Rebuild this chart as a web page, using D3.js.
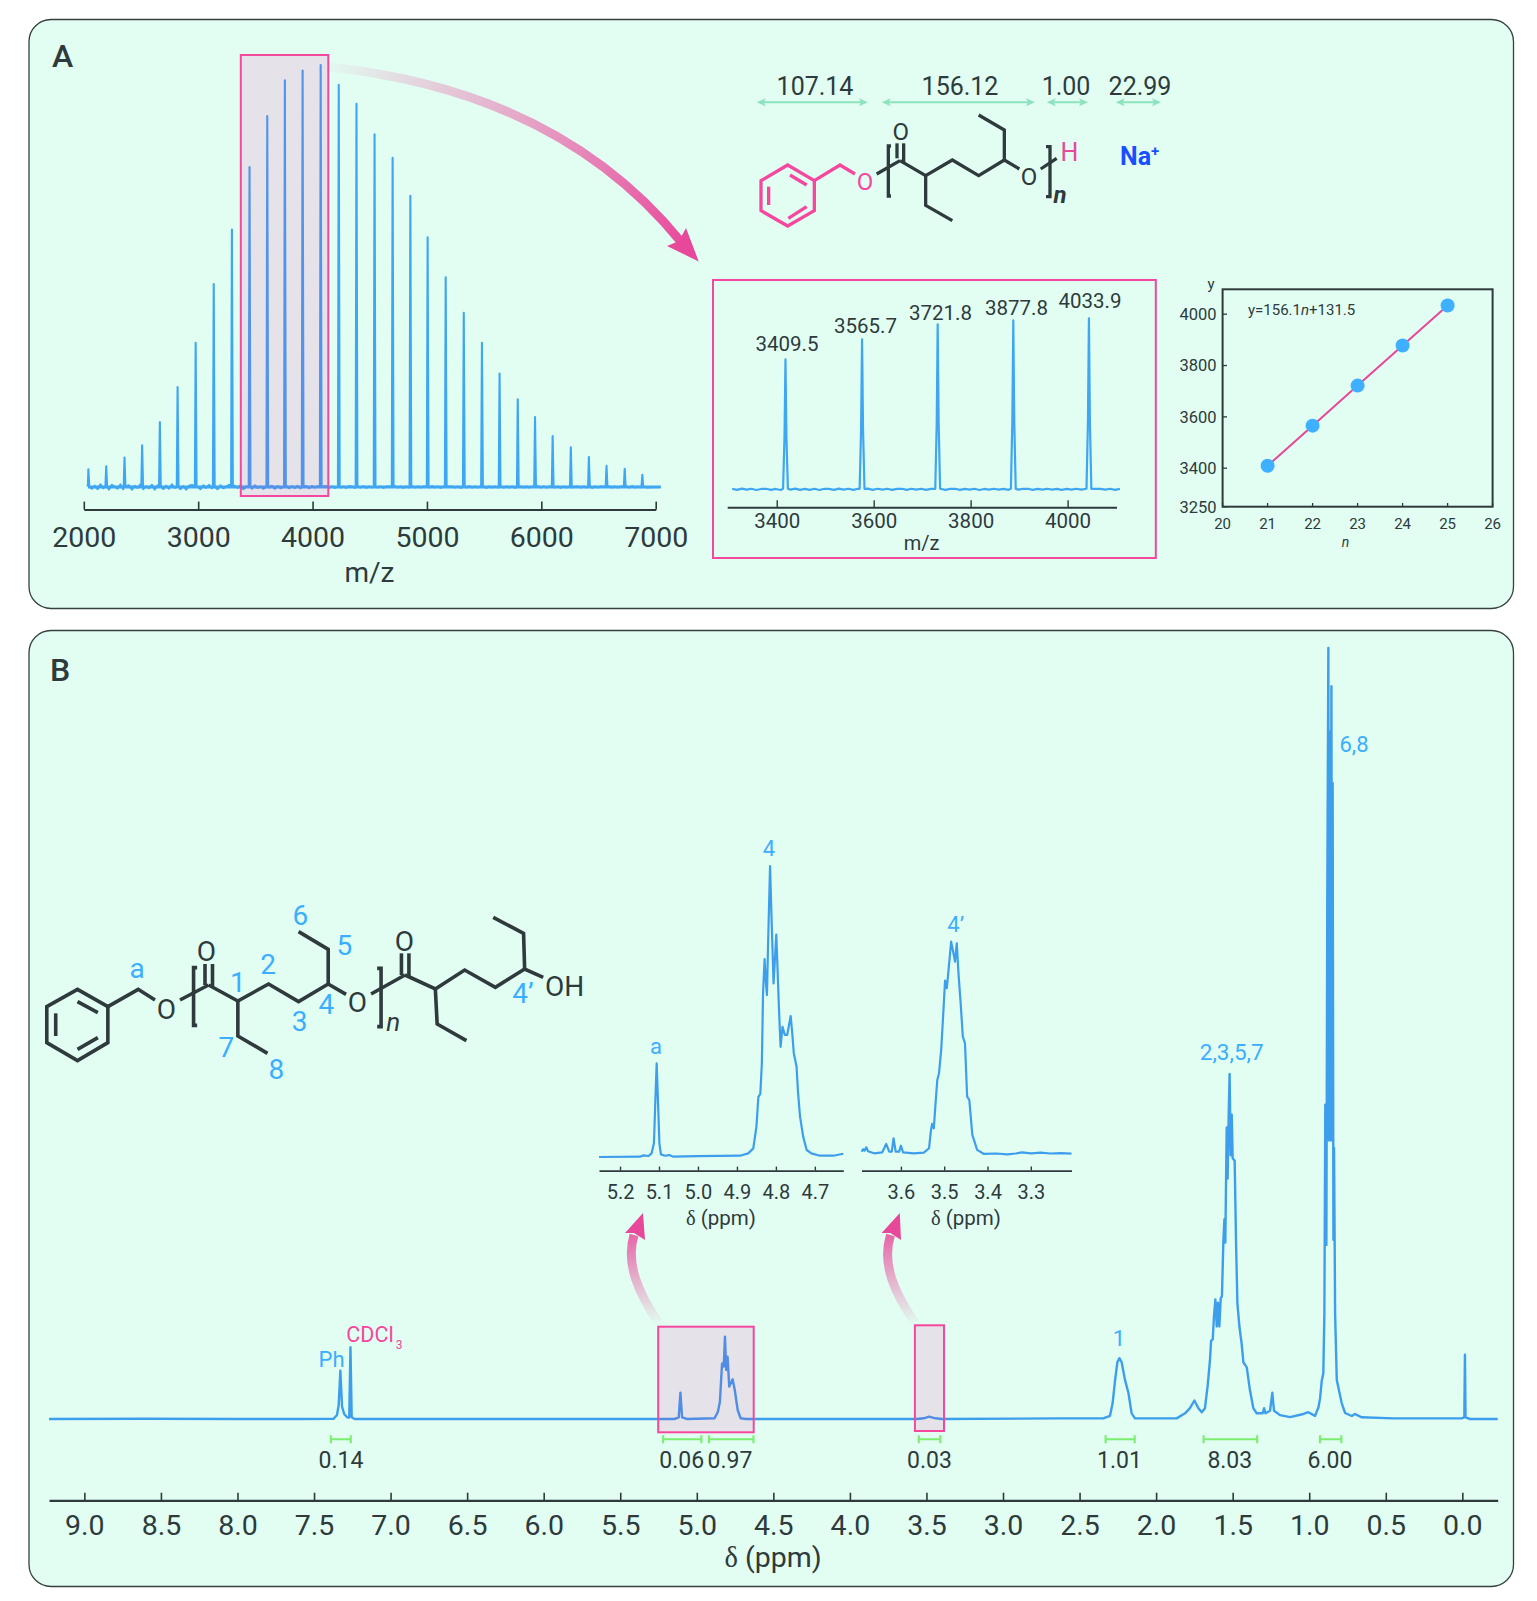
<!DOCTYPE html>
<html><head><meta charset="utf-8">
<script src="https://cdn.jsdelivr.net/npm/d3@7"></script>
<style>html,body{margin:0;padding:0;background:#fff}svg{display:block}text{font-family:Roboto,sans-serif}</style>
</head><body><svg id="c" width="1537" height="1601" xmlns="http://www.w3.org/2000/svg"></svg>
<script>
// ---------- Panel A data ----------
const msPeakMz=[2040,2196,2356,2510,2665,2820,2978,3136,3295,3449,3604,3758,3913,4071,4229,4384,4542,4700,4855,5006,5164,5322,5481,5635,5794,5945,6099,6258,6416,6570,6729,6883];
const msPeakInt=[4.2,4.9,7.0,9.9,15.4,23.7,34.2,48.1,61,75.8,87.9,96.4,98.7,100,95.3,90.8,83.6,78,69,59.2,49.7,41.3,34.2,26.9,20.8,16.6,12.1,9.4,7.1,5,4.3,2.9];
const msNoise=[.5,-.4,.3,-.5,.6,-.3,.2,-.6,.5,.1,-.4,.6,-.5,.2,.4,-.6,.3,-.2,.6,-.5,.2,-.3,.5,-.6,.4,.1,-.5,.3,-.4,.6,-.2,.4,-.5,.2,-.6,.3,.5,-.4,.1,-.5,.4,-.2,.5,-.3,.2,-.5,.4,-.3,.1,.5,-.4,.3,-.2,.4,-.5,.1,.3,-.4,.4,-.2,.1,-.4,.3,-.1,.3,-.4,.2,-.3,.1,.3,-.3,.2,-.2,.3,-.3,.1,.2,-.3,.2,-.1,.2,-.2,.1,.2,-.2,.1,-.2,.2,-.1,.1,-.2,.2,.1,-.2,.1,-.1,.2,-.2,.1,-.1,.2,-.1,.1,-.2,.1,.1,-.1,.2,-.1,.1,-.2,.1,-.1,.2,-.1,.1,-.1,.1,.1,-.1,.2,-.1,.1,-.2,.1,-.1,.1,.1,-.1,.1,-.2,.1,-.1,.2,-.1,.1,-.1,.1,.1,-.2,.1,-.1,.1,-.1,.2,-.1,.1,-.1,.1,-.2,.1,.1,-.1,.1,-.1,.1,-.1,.2,-.1,.1,-.1,.1,.1,-.1,.1,-.2,.1,-.1,.1,-.1,.1,.1,-.1,.1,-.1,.1,-.2,.1,-.1,.1,.1,-.1,.1,-.1,.1,-.1,.1,-.1,.1,-.1,.2,-.1,.1,-.1,.1,-.1];
const msTicks=[2000,3000,4000,5000,6000,7000];
const zoomPeakMz=[3418,3576,3732,3888,4044];
const zoomPeakInt=[76,87.7,96.5,98.8,100];
const zoomPeakLabels=["3409.5","3565.7","3721.8","3877.8","4033.9"];
const zoomNoise=[.3,-.3,.4,-.2,.3,-.4,.2,.3,-.3,.2,-.4,.3,-.2,.4,-.3,.2,-.3,.3,-.4,.3,.2,-.3,.4,-.2,.3,-.3,.3,-.2,.4,-.3,.3,-.2,.3,-.3,.2,.3,-.3,.3,-.2,.3,-.3,.2,-.2,.3,-.3,.2,.3,-.3,.2,-.2,.3,-.4,.2,-.2,.3,-.2,.2,-.3,.3,-.2,.2,.3,-.3,.2,-.2,.3,-.2,.2,-.3,.2,-.2,.3,-.2,.2,-.3,.2,.2,-.2,.3,-.3,.2];
const zoomTicks=[3400,3600,3800,4000];
const fitN=[21,22,23,24,25];
const fitM=[3409.5,3565.7,3721.8,3877.8,4033.9];
const fitNTicks=[20,21,22,23,24,25,26];
const fitMTicks=[3250,3400,3600,3800,4000];
const fragLabels=["107.14","156.12","1.00","22.99"];
// ---------- Panel B data: [ppm, relative height] ----------
const nmrLeft=[[9.231,0],[8.6,0.03],[8.0,0],[7.592,0]];
const nmrAromatic=[[7.372,.04],[7.350,.52],[7.339,1.82],[7.328,6.27],[7.317,1.6],[7.303,.65],[7.284,.22],[7.270,.18],[7.262,9.3],[7.254,.22],[7.235,0]];
const nmrOverlap=[[5.146,0],[5.118,.2],[5.107,3.42],[5.096,.2],[5.063,0],[4.884,.1],[4.862,.95],[4.849,2.25],[4.835,7.2],[4.824,6.8],[4.816,10.68],[4.808,6.36],[4.799,8.08],[4.788,4.2],[4.766,5.15],[4.752,3.76],[4.733,1.17],[4.714,.1],[4.678,0]];
const nmrEnd=[[3.565,0],[3.518,.09],[3.483,.3],[3.441,.09],[3.4,0]];
const nmrAliphatic=[[2.628,.08],[2.345,.08],[2.301,.41],[2.284,2.07],[2.268,5.04],[2.253,7.36],[2.240,7.89],[2.225,7.36],[2.203,5.04],[2.181,3.4],[2.160,.74],[2.138,.08],[1.866,.08],[1.811,.74],[1.779,1.4],[1.750,2.4],[1.724,1.4],[1.702,.87],[1.681,1.4],[1.663,4.38],[1.648,7.69],[1.641,10.14],[1.630,10.34],[1.622,13.32],[1.613,15.5],[1.604,12],[1.596,15.1],[1.587,12],[1.578,15.63],[1.570,15.97],[1.561,22.9],[1.554,25.9],[1.548,22.9],[1.539,37.8],[1.533,31.2],[1.526,39.46],[1.520,44.75],[1.513,34.2],[1.506,39.46],[1.500,33.83],[1.487,33.5],[1.478,22.9],[1.469,14.97],[1.456,12],[1.441,9.67],[1.430,7.36],[1.408,6.7],[1.387,3.72],[1.365,1.4],[1.343,.74],[1.304,.74],[1.295,1.4],[1.286,.74],[1.256,1.07],[1.241,3.4],[1.230,1.07],[1.191,.5],[1.125,.24],[1.038,.65],[1.006,.88],[.962,.4],[.940,1.5],[.929,2.7],[.918,5],[.908,5.9],[.901,13.7],[.895,40.78],[.888,22.58],[.882,67.9],[.875,100],[.871,36.15],[.864,89.1],[.860,36.15],[.855,95.05],[.851,36.15],[.847,82.5],[.842,23.25],[.838,35.15],[.834,23.25],[.831,13.7],[.820,5.06],[.788,2.07],[.766,.78],[.722,.39],[.701,.65],[.657,.22],[.450,.08],[.1,.08],[.004,.08],[-.013,.2],[-.017,8.35],[-.021,.2],[-.05,0],[-.231,0]];
const nmrTicks=[9,8.5,8,7.5,7,6.5,6,5.5,5,4.5,4,3.5,3,2.5,2,1.5,1,.5,0];
const insetA=[[5.254,-.1],[5.149,0],[5.140,.46],[5.127,.23],[5.119,1.15],[5.113,4.6],[5.109,20.6],[5.106,32.1],[5.103,20.6],[5.099,4.6],[5.095,.8],[5.085,.34],[5.074,.57],[5.063,0],[5.003,.23],[4.892,.34],[4.871,1.15],[4.858,2.87],[4.850,10.3],[4.845,20.6],[4.840,21.6],[4.836,32.1],[4.833,56.2],[4.829,68],[4.826,60.8],[4.823,55.6],[4.820,73.4],[4.815,100],[4.811,81.4],[4.806,59.6],[4.799,76.4],[4.796,65.4],[4.792,50.5],[4.788,37.8],[4.783,44.7],[4.777,41.9],[4.771,41.9],[4.762,48.4],[4.758,42.4],[4.754,35.6],[4.747,31],[4.743,21.8],[4.738,13.8],[4.730,6.9],[4.721,2.3],[4.709,1.15],[4.687,.34],[4.653,.34],[4.627,1.03]];
const insetATicks=[5.2,5.1,5.0,4.9,4.8,4.7];
const insetB=[[3.691,.8],[3.687,1.9],[3.684,1.26],[3.680,2.83],[3.676,.94],[3.662,0],[3.643,.47],[3.634,4.4],[3.627,.8],[3.621,.8],[3.617,7.1],[3.612,.8],[3.604,.8],[3.600,3.6],[3.595,.47],[3.570,0],[3.547,.3],[3.535,2.4],[3.531,10.2],[3.528,13.9],[3.524,11.8],[3.520,23.6],[3.516,34.6],[3.512,37.8],[3.507,48.8],[3.503,63],[3.498,81.6],[3.494,78],[3.490,86.6],[3.484,100],[3.480,96],[3.475,90.6],[3.471,99.2],[3.467,85],[3.462,70.9],[3.457,55.1],[3.452,52],[3.447,26.8],[3.442,25.2],[3.435,8.7],[3.430,5.5],[3.424,1.6],[3.408,-.3],[3.380,-.1],[3.354,-.47],[3.335,-.1],[3.320,.47],[3.300,0],[3.277,.3],[3.255,-.1],[3.231,.1],[3.206,-.16]];
const insetBTicks=[3.6,3.5,3.4,3.3];
const integrals=[[7.39,7.26,"0.14"],[5.22,4.97,"0.06"],[4.92,4.63,"0.97"],[3.55,3.41,"0.03"],[2.33,2.14,"1.01"],[1.69,1.34,"8.03"],[.93,.79,"6.00"]];
const integralLabelX=[341,681.7,730,929.5,1119.5,1229.8,1330];

// ---------- style ----------
const DARK="#2e3a3c",BLUE="#3d9eec",LABEL="#3baeff",PINK="#f4479d",ARROW="#e8489a",GREEN="#8de3bf",INT="#7bee70",SPEC="#3fa6f2";
const svg=d3.select("#c");
const defs=svg.append("defs");
function txt(g,x,y,s,o={}){return g.append("text").attr("x",x).attr("y",y).attr("text-anchor",o.anchor||"middle")
 .attr("font-size",o.size||20).attr("fill",o.fill||DARK).attr("font-weight",o.weight||400).attr("font-style",o.style||"normal").text(s);}
function deltaLabel(x,y,size){const t=txt(svg,x,y,"",{size});
 t.append("tspan").attr("font-family","'Liberation Serif',serif").text("δ");t.append("tspan").text(" (ppm)");}
function panel(x,y,w,h){svg.append("rect").attr("x",x).attr("y",y).attr("width",w).attr("height",h).attr("rx",22)
 .attr("fill","#e2fef2").attr("stroke","#34413f").attr("stroke-width",1.3);}
panel(29,19.5,1484.5,589);
panel(29,630.5,1484.5,956);
txt(svg,52,66.5,"A",{anchor:"start",size:32,weight:500});
txt(svg,50,681,"B",{anchor:"start",size:32,weight:500});

function bottomAxis(scale,ticks,y,opt){
 const ax=d3.axisBottom(scale).tickValues(ticks).tickSizeInner(-opt.len).tickSizeOuter(0).tickFormat(opt.fmt||(d=>d));
 const g=svg.append("g").attr("transform",`translate(0,${y})`).call(ax);
 g.select(".domain").attr("stroke",DARK).attr("stroke-width",opt.sw||2);
 g.selectAll(".tick line").attr("stroke",DARK).attr("stroke-width",opt.tw||1.6);
 g.selectAll(".tick text").attr("y",opt.base).attr("dy",0).attr("fill",DARK).attr("font-family","Roboto,sans-serif").attr("font-size",opt.size);
 return g;
}
function gradArrow(id,d,x1,y1,x2,y2,head,w){
 const lg=defs.append("linearGradient").attr("id",id).attr("gradientUnits","userSpaceOnUse").attr("x1",x1).attr("y1",y1).attr("x2",x2).attr("y2",y2);
 lg.append("stop").attr("offset",0).attr("stop-color",ARROW).attr("stop-opacity",.03);
 lg.append("stop").attr("offset",.45).attr("stop-color",ARROW).attr("stop-opacity",.45);
 lg.append("stop").attr("offset",1).attr("stop-color",ARROW).attr("stop-opacity",1);
 svg.append("path").attr("d",d).attr("fill","none").attr("stroke",`url(#${id})`).attr("stroke-width",w);
 svg.append("polygon").attr("points",head.map(p=>p.join(",")).join(" ")).attr("fill",ARROW);
}
function pinkRect(x,y,x2,y2){svg.append("rect").attr("x",x).attr("y",y).attr("width",x2-x).attr("height",y2-y)
 .attr("fill","#ff00a0").attr("fill-opacity",.105).attr("stroke",PINK).attr("stroke-width",2);}
function pinkFrame(x,y,x2,y2){svg.append("rect").attr("x",x).attr("y",y).attr("width",x2-x).attr("height",y2-y)
 .attr("fill","none").attr("stroke",PINK).attr("stroke-width",2);}

// ---------- Panel A: full mass spectrum ----------
const msX=d3.scaleLinear().domain([2000,7000]).range([83.8,655.7]);
const msY=d3.scaleLinear().domain([0,100]).range([487,65]);
const msBase=msNoise.map((v,i)=>[2045+i*25,v]);
const msPts=msBase.filter(p=>!msPeakMz.some(m=>Math.abs(m-p[0])<10));
msPeakMz.forEach((m,i)=>{msPts.push([m-7,0.1],[m,msPeakInt[i]],[m+3,msPeakInt[i]*.6],[m+8,0.1]);});
msPts.push([2036,0.6],[7044,0]);
msPts.sort((a,b)=>a[0]-b[0]);
const msLine=d3.line().x(d=>msX(d[0])).y(d=>msY(d[1]));
svg.append("path").attr("d",msLine(msPts)).attr("fill","none").attr("stroke",SPEC).attr("stroke-width",2.1).attr("stroke-linejoin","round");
svg.append("path").attr("d",msLine([[2036,0],[7044,0]])).attr("stroke",SPEC).attr("stroke-width",3);
bottomAxis(msX,msTicks,509.6,{len:8,base:37.5,size:28.5,sw:2});
txt(svg,369.5,582,"m/z",{size:28});
pinkRect(240.8,55,328.3,496);
gradArrow("ga","M330,67 Q560,92 682,243",330,67,690,250,[[698.7,261.4],[667,246],[679,241],[686,228]],9);

// ---------- Panel A: fragments and molecule ----------
const fragX=[815,960,1066,1140];
const fragSpan=[[756.7,868],[881.7,1035],[1046.7,1088],[1115.7,1161]];
fragLabels.forEach((l,i)=>{
 txt(svg,fragX[i],94.5,l,{size:25});
 const [a,b]=fragSpan[i],y=102.3;
 svg.append("line").attr("x1",a+3).attr("x2",b-3).attr("y1",y).attr("y2",y).attr("stroke",GREEN).attr("stroke-width",2);
 svg.append("polygon").attr("points",`${a},${y} ${a+9},${y-4} ${a+7},${y} ${a+9},${y+4}`).attr("fill",GREEN);
 svg.append("polygon").attr("points",`${b},${y} ${b-9},${y-4} ${b-7},${y} ${b-9},${y+4}`).attr("fill",GREEN);
});
function bonds(map,list,color,w){const l=d3.line().x(d=>map(d)[0]).y(d=>map(d)[1]);
 list.forEach(s=>svg.append("path").attr("d",l(s)).attr("fill","none").attr("stroke",color).attr("stroke-width",w).attr("stroke-linejoin","miter").attr("stroke-linecap","butt"));}
const mA=p=>[p[0]/3+690,p[1]/3+50];
bonds(mA,[[[293,345],[373,392],[373,482],[293,528],[213,482],[213,392],[293,345],[373,392]],[[300,375],[350,405]],[[236,410],[236,465]],[[295,505],[350,470]],[[373,392],[450,345],[495,372]]],PINK,3.3);
bonds(mA,[[[560,372],[630,332]],[[621,280],[621,325]],[[641,280],[641,342]],[[630,332],[707,377],[787,330],[866,377],[943,330],[988,357]],[[707,377],[707,466],[787,512]],[[943,330],[943,240],[866,195]],[[1052,357],[1100,325]],[[603,288],[595,288],[595,438],[603,438]],[[1068,290],[1080,290],[1080,440],[1068,440]]],DARK,3.3);
function molText(map,p,s,o){const q=map(p);txt(svg,q[0],q[1]+.355*o.size,s,o);}
molText(mA,[525,395],"O",{size:24,fill:PINK});
molText(mA,[632,245],"O",{size:24});
molText(mA,[1017,378],"O",{size:24});
molText(mA,[1138,306],"H",{size:25,fill:"#e8489a"});
molText(mA,[1110,432],"n",{size:24,weight:700,style:"italic"});
const na=txt(svg,1120,165.3,"Na",{anchor:"start",size:25,weight:700,fill:"#1a4fff"});
na.append("tspan").attr("font-size",15).attr("dy",-9).text("+");

// ---------- Panel A: zoom spectrum ----------
const zX=d3.scaleLinear().domain([3297.8,4100.9]).range([727.2,1116.5]);
const zY=d3.scaleLinear().domain([0,100]).range([489.3,318.3]);
const zPts=zoomNoise.map((v,i)=>[3308+i*10,v]).filter(p=>!zoomPeakMz.some(m=>Math.abs(m-p[0])<7));
zoomPeakMz.forEach((m,i)=>{zPts.push([m-5,.3],[m-2,zoomPeakInt[i]*.4],[m,zoomPeakInt[i]],[m+2,zoomPeakInt[i]*.4],[m+5,.3]);});
zPts.sort((a,b)=>a[0]-b[0]);
const zLine=d3.line().x(d=>zX(d[0])).y(d=>zY(d[1]));
svg.append("path").attr("d",zLine(zPts)).attr("fill","none").attr("stroke",SPEC).attr("stroke-width",2.2).attr("stroke-linejoin","round");
bottomAxis(zX,zoomTicks,507.3,{len:7,base:20.5,size:20.5,sw:2,tw:1.4});
txt(svg,921.5,550,"m/z",{size:20});
const zLabelX=[787,865.5,940.5,1016.5,1090],zLabelY=[350.7,332.7,320,314.7,308.3];
zoomPeakLabels.forEach((l,i)=>txt(svg,zLabelX[i],zLabelY[i],l,{size:20.5}));
pinkFrame(713,280,1155.8,558);

// ---------- Panel A: linear fit ----------
const fX=d3.scaleLinear().domain([20,26]).range([1222.6,1492.6]);
const fY=d3.scaleLinear().domain([3250,4097]).range([506.7,289.3]);
svg.append("rect").attr("x",1222.6).attr("y",289.3).attr("width",270).attr("height",217.4).attr("fill","none").attr("stroke",DARK).attr("stroke-width",2);
fitNTicks.forEach(t=>{
 svg.append("line").attr("x1",fX(t)).attr("x2",fX(t)).attr("y1",506.7).attr("y2",503).attr("stroke",DARK).attr("stroke-width",1.3);
 txt(svg,fX(t),529,t,{size:15});});
fitMTicks.forEach(t=>{
 svg.append("line").attr("x1",1222.6).attr("x2",1227).attr("y1",fY(t)).attr("y2",fY(t)).attr("stroke",DARK).attr("stroke-width",1.3);
 txt(svg,1216.5,fY(t)+5.8,t,{size:16.5,anchor:"end"});});
txt(svg,1211,289,"y",{size:15});
txt(svg,1345.6,546.7,"n",{size:14,style:"italic"});
const eq=txt(svg,1248,315,"y=156.1",{anchor:"start",size:15});
eq.append("tspan").attr("font-style","italic").text("n");eq.append("tspan").text("+131.5");
const fitData=fitN.map((n,i)=>[n,fitM[i]]);
svg.append("path").attr("d",d3.line().x(d=>fX(d[0])).y(d=>fY(d[1]))(fitData)).attr("fill","none").attr("stroke",ARROW).attr("stroke-width",2);
svg.selectAll("circle.fit").data(fitData).join("circle").attr("cx",d=>fX(d[0])).attr("cy",d=>fY(d[1])).attr("r",7).attr("fill","#3fb0ff");

// ---------- Panel B: main spectrum ----------
const nX=d3.scaleLinear().domain([9.231,-.231]).range([49,1497.7]);
const nY=d3.scaleLinear().domain([0,100]).range([1419,648]);
const nLine=d3.line().x(d=>nX(d[0])).y(d=>nY(d[1]));
const nAll=[...nmrLeft,...nmrAromatic,...nmrOverlap,...nmrEnd,...nmrAliphatic];
svg.append("path").attr("d",nLine(nAll)).attr("fill","none").attr("stroke",BLUE).attr("stroke-width",2.4).attr("stroke-linejoin","round");
bottomAxis(nX,nmrTicks,1500.3,{len:7.6,base:34.7,size:28.5,fmt:d3.format(".1f"),sw:2.2});
deltaLabel(773,1567,28.5);
integrals.forEach((d,i)=>{
 const a=nX(d[0]),b=nX(d[1]),y=1439.3;
 svg.append("path").attr("d",`M${a},${y-4}V${y+4}M${a},${y}H${b}M${b},${y-4}V${y+4}`).attr("fill","none").attr("stroke",INT).attr("stroke-width",2.1);
 txt(svg,integralLabelX[i],1468.3,d[2],{size:23});
});
pinkRect(658.2,1326.7,753.7,1432.3);
pinkRect(914.9,1325.3,944,1431);
txt(svg,331.6,1367,"Ph",{size:22,fill:LABEL});
const cd=txt(svg,346.3,1341.7,"CDCl",{anchor:"start",size:21.5,fill:PINK});
cd.append("tspan").attr("font-size",12).attr("dx",2).attr("dy",7).text("3");
txt(svg,1119,1346,"1",{size:22,fill:LABEL});
txt(svg,1231.7,1060,"2,3,5,7",{size:22.5,fill:LABEL});
txt(svg,1354,752,"6,8",{size:22,fill:LABEL});
gradArrow("gb1","M658,1322 C640,1295 625,1265 634,1235",658,1322,640,1215,[[643,1213],[625,1233],[634,1233],[645,1240]],9);
gradArrow("gb2","M914.5,1322 C896,1295 881,1265 890.5,1235",914.5,1322,896,1215,[[899.8,1213],[881.6,1233],[890.5,1233],[901,1240]],9);

// ---------- Panel B: insets ----------
const iAX=d3.scaleLinear().domain([5.254,4.627]).range([599,843.3]);
const iAY=d3.scaleLinear().domain([0,100]).range([1156.7,866]);
svg.append("path").attr("d",d3.line().x(d=>iAX(d[0])).y(d=>iAY(d[1]))(insetA)).attr("fill","none").attr("stroke",BLUE).attr("stroke-width",2.2).attr("stroke-linejoin","round");
bottomAxis(iAX,insetATicks,1170.6,{len:4,base:28.4,size:20,fmt:d3.format(".1f"),sw:1.8,tw:1.4});
deltaLabel(720.9,1225,20.5);
txt(svg,769,855.5,"4",{size:22,fill:LABEL});
txt(svg,656,1054,"a",{size:22,fill:LABEL});
const iBX=d3.scaleLinear().domain([3.691,3.206]).range([861.5,1071.5]);
const iBY=d3.scaleLinear().domain([0,100]).range([1153.3,941.7]);
svg.append("path").attr("d",d3.line().x(d=>iBX(d[0])).y(d=>iBY(d[1]))(insetB)).attr("fill","none").attr("stroke",BLUE).attr("stroke-width",2.2).attr("stroke-linejoin","round");
bottomAxis(iBX,insetBTicks,1170.6,{len:4,base:28.4,size:20,fmt:d3.format(".1f"),sw:1.8,tw:1.4});
deltaLabel(966,1225,20.5);
txt(svg,955.7,931.7,"4’",{size:22,fill:LABEL});

// ---------- Panel B: molecule ----------
const mB=p=>[p[0]/2.8+30,p[1]/3+870];
bonds(mB,[[[133,358],[218,410],[218,518],[133,572],[47,518],[47,410],[133,358],[218,410]],[[133,395],[190,428]],[[72,430],[72,498]],[[133,538],[190,503]],[[218,410],[303,358],[350,390]],
 [[420,390],[500,345]],[[490,345],[490,282]],[[511,350],[511,282]],[[500,345],[582,393],[668,342],[752,395],[835,342],[885,373]],[[582,393],[582,498],[665,550]],[[835,342],[835,238],[752,185]],
 [[468,293],[458,293],[458,466],[468,466]],[[972,295],[983,295],[983,470],[972,470]],[[955,372],[1050,315]],[[1040,315],[1040,250]],[[1061,320],[1061,250]],
 [[1050,315],[1135,357],[1217,300],[1303,352],[1385,297],[1437,322]],[[1135,357],[1140,462],[1222,512]],[[1385,297],[1382,190],[1297,142]]],DARK,3.6);
[[382,418,"O"],[494,243,"O"],[917,397,"O"],[1048,212,"O"]].forEach(d=>molText(mB,d,d[2],{size:28}));
molText(mB,[1497,347],"OH",{size:28});
molText(mB,[1017,455],"n",{size:26,style:"italic"});
[[300,294,"a"],[582,337,"1"],[667,282,"2"],[755,452,"3"],[830,403,"4"],[880,226,"5"],[757,135,"6"],[550,532,"7"],[690,597,"8"],[1380,368,"4’"]].forEach(d=>molText(mB,d,d[2],{size:28,fill:LABEL}));
</script></body></html>
